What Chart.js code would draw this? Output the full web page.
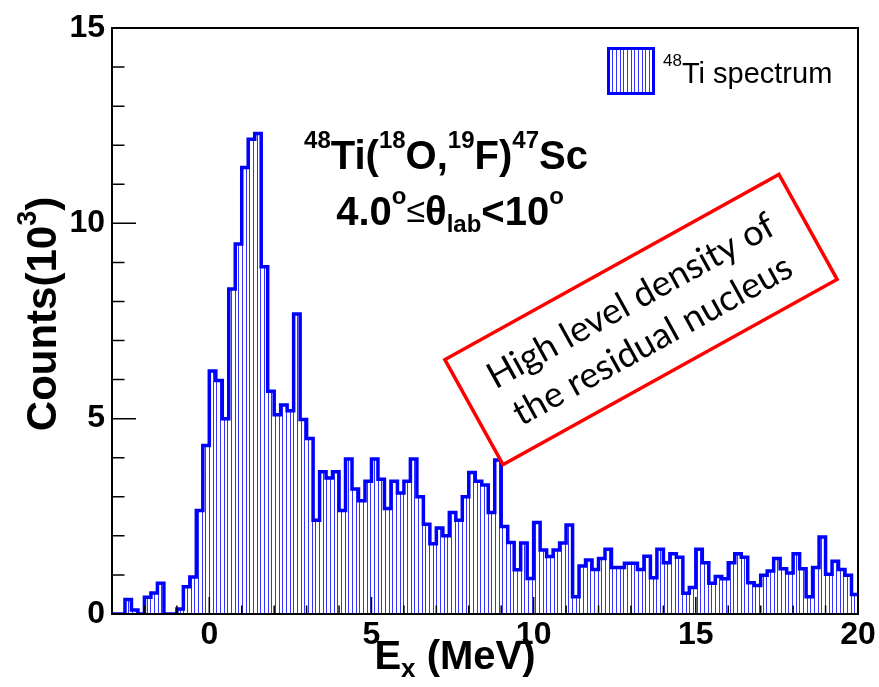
<!DOCTYPE html>
<html>
<head>
<meta charset="utf-8">
<title>48Ti spectrum</title>
<script src="https://cdn.jsdelivr.net/npm/chart.js@4.4.1/dist/chart.umd.min.js"></script>
<style>
  html,body{margin:0;padding:0;background:#fff}
  canvas{display:block}
</style>
</head>
<body>
<canvas id="spec" width="879" height="687"></canvas>
<script>
// histogram binning (MeV)
const EX_MIN = -3, EX_MAX = 20, BIN_WIDTH = 0.2;
// counts per bin, in units of 10^3
const counts = [
  0, 0, 0.37, 0.1, 0, 0.43, 0.54, 0.79, 0, 0,
  0.13, 0.70, 0.95, 2.65, 4.31, 6.22, 5.98, 5.0, 8.32, 9.47,
  11.43, 12.15, 12.3, 8.89, 5.7, 5.1, 5.35, 5.2, 7.68, 4.98,
  4.49, 2.4, 3.64, 3.48, 3.64, 2.65, 3.97, 3.2, 2.9, 3.4,
  3.97, 3.45, 2.7, 3.4, 3.1, 3.4, 3.97, 3.0, 2.3, 1.8,
  2.2, 2.0, 2.6, 2.4, 3.0, 3.62, 3.4, 3.3, 2.6, 3.94,
  2.24, 1.83, 1.13, 1.82, 0.91, 2.34, 1.64, 1.47, 1.64, 1.82,
  2.28, 0.44, 1.23, 1.38, 1.14, 1.42, 1.66, 1.19, 1.19, 1.30,
  1.30, 1.14, 1.48, 0.93, 1.66, 1.31, 1.54, 1.45, 0.53, 0.68,
  1.66, 1.31, 0.79, 0.96, 0.9, 1.31, 1.54, 1.45, 0.80, 0.73,
  0.99, 1.1, 1.42, 1.16, 1.05, 1.54, 1.16, 0.44, 1.19, 1.97,
  1.02, 1.35, 1.14, 0.99, 0.5
];
const xTicks = [0, 5, 10, 15, 20];
const yTicks = [0, 5, 10, 15];
const Y_MAX = 15;

const SANS = '"Liberation Sans", Arial, Helvetica, "DejaVu Sans", sans-serif';
const bold = n => `bold ${n}px ${SANS}`;
const norm = n => `${n}px ${SANS}`;

// step outline: one point per bin at its lower edge, plus the closing edge
const points = counts.map((c, i) => ({ x: EX_MIN + i * BIN_WIDTH, y: c }));
points.push({ x: EX_MAX, y: counts[counts.length - 1] });

const canvas = document.getElementById('spec');
const ctx = canvas.getContext('2d');

// vertical hatching used for the histogram body and the legend box
function makeHatch(){
  const c = document.createElement('canvas'); c.width = 11; c.height = 4;
  const g = c.getContext('2d');
  g.fillStyle = 'rgba(0,0,255,0.8)';
  [0, 4, 7].forEach(px => g.fillRect(px, 0, 1, 4));
  return ctx.createPattern(c, 'repeat');
}
const hatch = makeHatch();

// small rich-text helper: parts = [{t, font, dy}]
function richWidth(g, parts){
  let w = 0;
  for (const p of parts){ g.font = p.font; w += g.measureText(p.t).width; }
  return w;
}
function drawRich(g, parts, x, y, align){
  let cx = align === 'center' ? x - richWidth(g, parts) / 2 : x;
  g.textAlign = 'left'; g.textBaseline = 'alphabetic';
  for (const p of parts){
    g.font = p.font;
    g.fillText(p.t, cx, y + (p.dy || 0));
    cx += g.measureText(p.t).width;
  }
}

const decorations = {
  id: 'decorations',
  afterDatasetsDraw(chart){
    const g = chart.ctx, a = chart.chartArea, sx = chart.scales.x, sy = chart.scales.y;
    g.save();
    g.strokeStyle = '#000'; g.lineWidth = 1.5;
    g.beginPath();
    for (let v = Math.ceil(EX_MIN); v <= EX_MAX; v++){
      const px = sx.getPixelForValue(v);
      const len = xTicks.includes(v) ? 17 : 8.5;
      g.moveTo(px, a.bottom); g.lineTo(px, a.bottom - len);
    }
    for (let v = 0; v <= Y_MAX; v++){
      const py = sy.getPixelForValue(v);
      const len = yTicks.includes(v) ? 24 : 12.5;
      g.moveTo(a.left, py); g.lineTo(a.left + len, py);
    }
    g.stroke();
    g.lineWidth = 2;
    g.strokeRect(a.left, a.top, a.right - a.left, a.bottom - a.top);
    g.restore();
  },
  afterDraw(chart){
    const g = chart.ctx;
    g.save();
    g.fillStyle = '#000';

    // axis titles
    drawRich(g, [
      { t: 'E', font: bold(40) },
      { t: 'x', font: bold(26), dy: 8 },
      { t: ' (MeV)', font: bold(40) }
    ], 455, 669, 'center');

    g.save();
    g.translate(56, 314); g.rotate(-Math.PI / 2);
    drawRich(g, [
      { t: 'Counts(10', font: bold(42) },
      { t: '3', font: bold(27), dy: -20 },
      { t: ')', font: bold(42) }
    ], 0, 0, 'center');
    g.restore();

    // reaction and angular range
    drawRich(g, [
      { t: '48', font: bold(24), dy: -21 },
      { t: 'Ti(', font: bold(40) },
      { t: '18', font: bold(24), dy: -21 },
      { t: 'O,', font: bold(40) },
      { t: '19', font: bold(24), dy: -21 },
      { t: 'F)', font: bold(40) },
      { t: '47', font: bold(24), dy: -21 },
      { t: 'Sc', font: bold(40) }
    ], 446, 169, 'center');
    drawRich(g, [
      { t: '4.0', font: bold(40) },
      { t: 'o', font: bold(24), dy: -21 },
      { t: '≤', font: norm(34), dy: -3 },
      { t: 'θ', font: bold(40) },
      { t: 'lab', font: bold(24), dy: 7 },
      { t: '<10', font: bold(40) },
      { t: 'o', font: bold(24), dy: -21 }
    ], 450, 225, 'center');

    // legend
    g.fillStyle = hatch;
    g.fillRect(608.5, 48.5, 45, 45);
    g.strokeStyle = '#0000ff'; g.lineWidth = 3;
    g.strokeRect(608.5, 48.5, 45, 45);
    g.fillStyle = '#000';
    drawRich(g, [
      { t: '48', font: norm(17), dy: -17 },
      { t: 'Ti spectrum', font: norm(29) }
    ], 663, 83, 'left');

    // red callout box
    g.save();
    g.translate(641, 319.5); g.rotate(-29 * Math.PI / 180);
    g.fillStyle = '#fff';
    g.fillRect(-191, -60, 382, 120);
    g.strokeStyle = '#ff0000'; g.lineWidth = 3.5;
    g.strokeRect(-191, -60, 382, 120);
    const line1 = 'High level density of', line2 = 'the residual nucleus';
    g.font = '100px Lato, "Open Sans", sans-serif';
    const size = Math.round(100 * 322 / g.measureText(line1).width);
    g.font = `${size}px Lato, "Open Sans", sans-serif`;
    g.fillStyle = '#000'; g.textAlign = 'center'; g.textBaseline = 'middle';
    g.fillText(line1, 0, -21);
    g.fillText(line2, 0, 24);
    g.restore();

    g.restore();
  }
};

new Chart(ctx, {
  type: 'line',
  data: {
    datasets: [{
      data: points,
      stepped: 'before',
      borderColor: '#0000ff',
      borderWidth: 3.5,
      backgroundColor: hatch,
      fill: 'origin',
      pointRadius: 0,
      borderJoinStyle: 'miter'
    }]
  },
  options: {
    responsive: false,
    animation: false,
    devicePixelRatio: 1,
    layout: { padding: { top: 28, right: 21, left: 0, bottom: 0 } },
    plugins: { legend: { display: false }, tooltip: { enabled: false } },
    scales: {
      x: {
        type: 'linear', min: EX_MIN, max: EX_MAX,
        afterBuildTicks: s => { s.ticks = xTicks.map(v => ({ value: v })); },
        afterFit: s => { s.height = 73; },
        grid: { display: false, drawTicks: false },
        border: { display: false },
        ticks: { font: { family: SANS, size: 32, weight: 'bold' }, color: '#000', padding: 2, maxRotation: 0, autoSkip: false }
      },
      y: {
        type: 'linear', min: 0, max: Y_MAX,
        afterBuildTicks: s => { s.ticks = yTicks.map(v => ({ value: v })); },
        afterFit: s => { s.width = 112; },
        grid: { display: false, drawTicks: false },
        border: { display: false },
        ticks: { font: { family: SANS, size: 32, weight: 'bold' }, color: '#000', padding: 7 }
      }
    }
  },
  plugins: [decorations]
});
</script>
</body>
</html>
